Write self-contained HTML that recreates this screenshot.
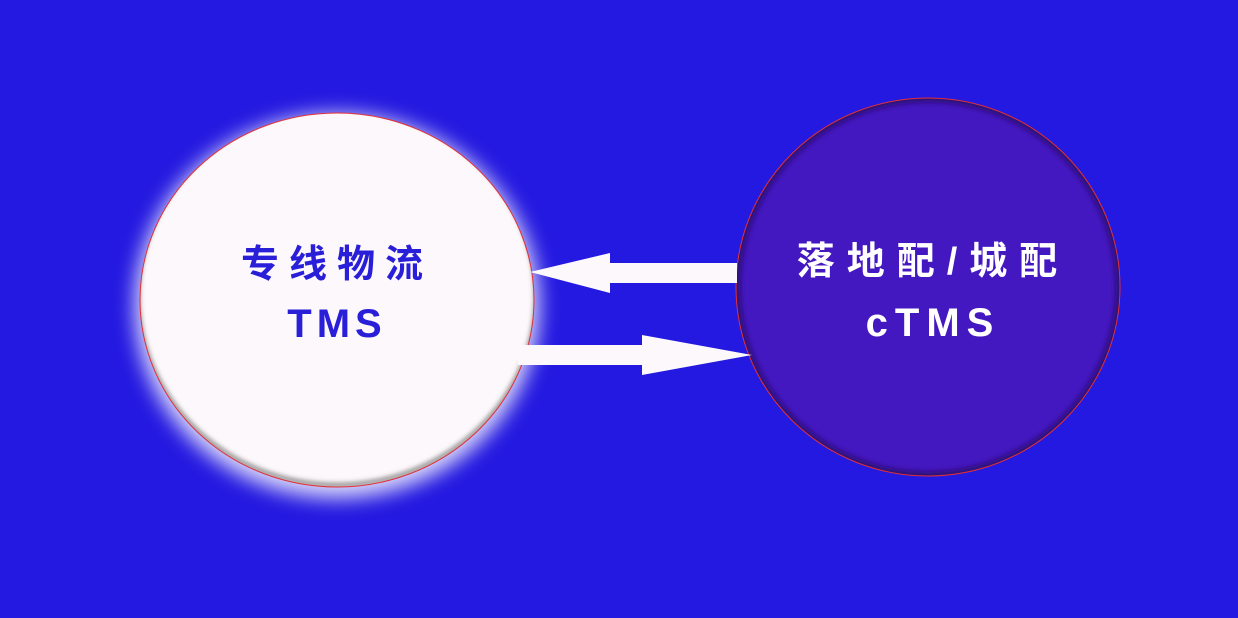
<!DOCTYPE html>
<html><head><meta charset="utf-8"><style>
html,body{margin:0;padding:0;background:#2419e0;}
svg{display:block}
text{font-family:"Liberation Sans","Noto Sans CJK SC",sans-serif;font-weight:bold;text-anchor:middle}
</style></head><body>
<svg width="1238" height="618" viewBox="0 0 1238 618">
<defs>
<filter id="glow" x="-20%" y="-20%" width="140%" height="140%"><feGaussianBlur stdDeviation="10"/></filter>
<filter id="sh" x="-20%" y="-20%" width="140%" height="140%"><feGaussianBlur stdDeviation="3"/></filter>
<clipPath id="lc"><ellipse cx="337" cy="300" rx="197" ry="187"/></clipPath>
<clipPath id="rc"><ellipse cx="928" cy="287" rx="192" ry="189"/></clipPath>
</defs>
<rect width="1238" height="618" fill="#2419e0"/>
<ellipse cx="337" cy="306" rx="202" ry="192" fill="#ffffff" opacity="0.85" filter="url(#glow)"/>
<ellipse cx="337" cy="300" rx="197" ry="187" fill="#fdf8fb"/>
<g clip-path="url(#lc)">
<ellipse cx="337" cy="300" rx="197" ry="187" fill="none" stroke="#777" stroke-width="8" filter="url(#sh)" transform="translate(0,-4)"/>
<ellipse cx="337" cy="296" rx="197" ry="187" fill="#fdf8fb" filter="url(#sh)"/>
</g>
<ellipse cx="337" cy="300" rx="197" ry="187" fill="none" stroke="#e0303a" stroke-width="1"/>
<ellipse cx="928" cy="287" rx="192" ry="189" fill="#4418c0"/>
<g clip-path="url(#rc)">
<ellipse cx="928" cy="287" rx="192" ry="189" fill="none" stroke="#2a1070" stroke-width="8" filter="url(#sh)"/>
</g>
<ellipse cx="928" cy="287" rx="192" ry="189" fill="none" stroke="#e0303a" stroke-width="1"/>
<polygon points="530,272 610,253 610,263 737,263 737,283 610,283 610,293" fill="#fdf8fb"/>
<polygon points="518,345 642,345 642,335 752,355 642,375 642,365 518,365" fill="#fdf8fb"/>
<text x="337" y="277" font-size="38" fill="#2a1fd8" letter-spacing="10">专线物流</text>
<text x="337" y="337" font-size="40" fill="#2a1fd8" letter-spacing="5">TMS</text>
<text x="933" y="274" font-size="38" fill="#ffffff" letter-spacing="12">落地配/城配</text>
<text x="933" y="336" font-size="40" fill="#ffffff" letter-spacing="7">cTMS</text>
</svg>
</body></html>
